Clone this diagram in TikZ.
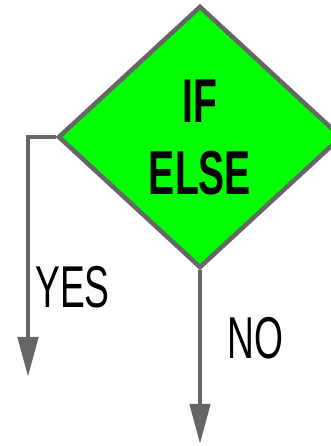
\documentclass[tikz,border=0pt]{standalone}
\usepackage{fontspec}
\usepackage{tikz}
\usetikzlibrary{arrows.meta,positioning,shapes.geometric}
\newfontfamily\flowfont[FakeStretch=0.63]{Liberation Sans}
\definecolor{flowgray}{RGB}{102,102,102}
\definecolor{flowgreen}{RGB}{0,255,0}
\tikzset{
    decnode/.style={diamond, draw=flowgray, line width=4.5pt, fill=flowgreen, inner sep=0pt, aspect=1.08, minimum width=284pt, minimum height=262pt, align=center, font=\flowfont\bfseries\fontsize{62}{72}\selectfont},
    flowarrow/.style={-{Triangle[length=40pt,width=20pt]}, draw=flowgray, line width=4.5pt},
    branchlabel/.style={font=\flowfont\fontsize{59}{64}\selectfont, inner sep=0pt}
}

\begin{document}
\begin{tikzpicture}[x=1pt, y=1pt]
        \useasboundingbox (0,0) rectangle (331,446);
        \clip (0,0) rectangle (331,446);
        \node[decnode] (dec) at (200,309) {IF\\ELSE};
        \coordinate (yesend) at (28,69);
        \coordinate (noend) at (200,2);

        \draw[flowarrow] (dec.west) -| (yesend);
        \draw[flowarrow] (dec.south) -- (noend);
        \node[branchlabel] (yes) at (72.5,158.5) {YES};
        \node[branchlabel] (no) at (255.5,107.5) {NO};
    \end{tikzpicture}
\end{document}
